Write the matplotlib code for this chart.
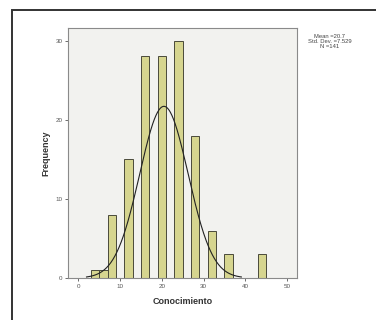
import numpy as np
import matplotlib
matplotlib.use('Agg')
import matplotlib.pyplot as plt
from matplotlib.patches import Rectangle

plt.rcParams['font.family'] = ['Liberation Sans', 'DejaVu Sans']

# Histogram of "Conocimiento" (bar centre -> frequency)
scores = [4, 6, 8, 12, 16, 20, 24, 28, 32, 36, 44]
freqs = [1, 1, 8, 15, 28, 28, 30, 18, 6, 3, 3]

# Summary stats shown in the corner
stat_mean = 20.7
stat_sd = 7.529
stat_n = 141

# Normal curve as drawn in the picture
curve_mean = 20.5
curve_sd = 5.8
curve_peak = 21.7

x_ticks = [0, 10, 20, 30, 40, 50]
y_ticks = [0, 10, 20, 30]

W, H = 376, 320
fig = plt.figure(figsize=(W / 100, H / 100), dpi=100)
fig.patch.set_facecolor('white')

# outer frame (runs off the right and bottom edges)
fig.add_artist(Rectangle((12 / W, -0.05), 1.0, 1 - 10 / H + 0.05,
                         transform=fig.transFigure, fill=False,
                         edgecolor='#333333', linewidth=1.4))

ax = fig.add_axes([68 / W, 1 - 278 / H, (297 - 68) / W, (278 - 28) / H])
ax.set_facecolor('#f2f2ef')

ax.bar(scores, freqs, width=2.0, color='#d6d58f', edgecolor='#4a4a3a',
       linewidth=0.7, zorder=2)

xs = np.linspace(curve_mean - 3.2 * curve_sd, curve_mean + 3.2 * curve_sd, 300)
ys = curve_peak * np.exp(-0.5 * ((xs - curve_mean) / curve_sd) ** 2)
ax.plot(xs, ys, color='#222222', linewidth=0.8, zorder=3)

ax.set_xlim(-2.5, 52.4)
ax.set_ylim(0, 31.6)
ax.set_xticks(x_ticks)
ax.set_yticks(y_ticks)
ax.tick_params(axis='both', labelsize=4.5, labelcolor='#555555',
               color='#555555', length=2.5, width=0.6, pad=1.5)
for s in ax.spines.values():
    s.set_color('#8a8a8a')
    s.set_linewidth(0.8)

ax.set_xlabel('Conocimiento', fontsize=6.5, fontweight='bold',
              color='#333333', labelpad=6)
ax.set_ylabel('Frequency', fontsize=6.5, fontweight='bold',
              color='#333333', labelpad=4)

fig.text(330 / W, 1 - 34 / H,
         f'Mean ={stat_mean}\nStd. Dev. ={stat_sd}\nN ={stat_n}',
         ha='center', va='top', fontsize=4.2, color='#444444',
         linespacing=1.0)

fig.savefig('out.png', dpi=100)
